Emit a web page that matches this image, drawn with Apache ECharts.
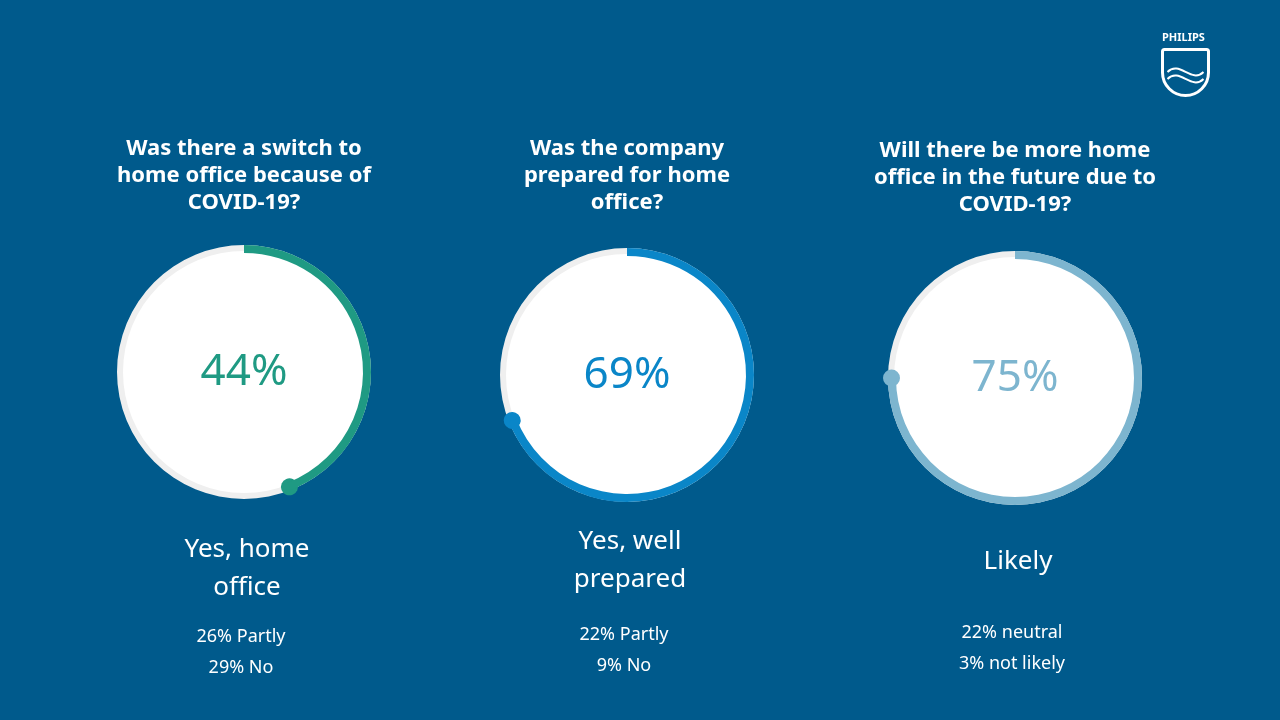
<!DOCTYPE html>
<html>
<head>
<meta charset="utf-8">
<script src="https://cdn.jsdelivr.net/npm/echarts@6/dist/echarts.min.js"></script>
<style>
  html, body { margin: 0; padding: 0; background: #005a8c; }
  #chart { width: 1280px; height: 720px; }
</style>
</head>
<body>
<div id="chart"></div>
<script>
const questions = [
  'Was there a switch to\nhome office because of\nCOVID-19?',
  'Was the company\nprepared for home\noffice?',
  'Will there be more home\noffice in the future due to\nCOVID-19?'
];
const mainValues = [44, 69, 75];
const mainLabels = ['Yes, home\noffice', 'Yes, well\nprepared', 'Likely'];
const otherLabels = ['26% Partly\n29% No', '22% Partly\n9% No', '22% neutral\n3% not likely'];
const colors = ['#1f9a83', '#0a86c8', '#7db5cf'];

// layout of each panel
const centersX = [244, 627, 1015];
const centersY = [372, 375, 378];
const titleTop = [130, 130, 132];
const labelTop = [526, 518, 538];
const otherTop = [616, 614, 612];

const FONT = '"Noto Sans", "Open Sans", sans-serif';
const chart = echarts.init(document.getElementById('chart'));

const series = [];
const titles = [];
mainValues.forEach((v, i) => {
  const center = [centersX[i], centersY[i]];
  // white disk
  series.push({
    type: 'pie', center: center, radius: [0, 122], silent: true, z: 1,
    label: { show: false }, labelLine: { show: false }, itemStyle: { color: '#ffffff' },
    data: [{ value: 1 }]
  });
  // ring + progress
  series.push({
    type: 'gauge', center: center, radius: 127, z: 5,
    startAngle: 90, endAngle: -270, min: 0, max: 100,
    axisLine: { lineStyle: { width: 6, color: [[1, '#efefef']] } },
    progress: { show: true, width: 8, itemStyle: { color: colors[i] } },
    pointer: {
      show: true, icon: 'circle', length: 17, width: 17,
      offsetCenter: [0, -115],
      itemStyle: { color: colors[i] }
    },
    anchor: { show: false },
    axisTick: { show: false }, splitLine: { show: false }, axisLabel: { show: false },
    title: { show: false },
    detail: {
      show: true, valueAnimation: false, formatter: '{value}%', offsetCenter: [0, 0],
      color: colors[i], fontSize: 44, fontFamily: FONT, fontWeight: 'normal'
    },
    data: [{ value: v }]
  });
  titles.push({
    text: questions[i], left: centersX[i] - 5, top: titleTop[i], textAlign: 'center',
    textStyle: { color: '#fff', fontSize: 22, fontWeight: 'bold', fontFamily: FONT, lineHeight: 27 }
  });
  titles.push({
    text: mainLabels[i], left: centersX[i] - 2, top: labelTop[i], textAlign: 'center',
    textStyle: { color: '#fff', fontSize: 26, fontWeight: 'normal', fontFamily: FONT, lineHeight: 38 }
  });
  titles.push({
    text: otherLabels[i], left: centersX[i] - 8, top: otherTop[i], textAlign: 'center',
    textStyle: { color: '#fff', fontSize: 18, fontWeight: 'normal', fontFamily: FONT, lineHeight: 31 }
  });
});

chart.setOption({
  backgroundColor: '#005a8c',
  animation: false,
  title: titles,
  series: series,
  graphic: [
    { type: 'text', left: 1162, top: 32, style: { text: 'PHILIPS', fill: '#fff', font: 'bold 11px ' + FONT } },
    { type: 'rect', left: 1160, top: 47, shape: { width: 46, height: 46, r: [2, 2, 23, 23] },
      style: { fill: 'none', stroke: '#fff', lineWidth: 3 } },
    { type: 'bezierCurve', left: 1165, top: 66,
      shape: { x1: 0, y1: 6, x2: 36, y2: 6, cpx1: 12, cpy1: -6, cpx2: 24, cpy2: 18 },
      style: { fill: 'none', stroke: '#fff', lineWidth: 2 } },
    { type: 'bezierCurve', left: 1165, top: 73,
      shape: { x1: 0, y1: 6, x2: 36, y2: 6, cpx1: 12, cpy1: -6, cpx2: 24, cpy2: 18 },
      style: { fill: 'none', stroke: '#fff', lineWidth: 2 } }
  ]
});
</script>
</body>
</html>
